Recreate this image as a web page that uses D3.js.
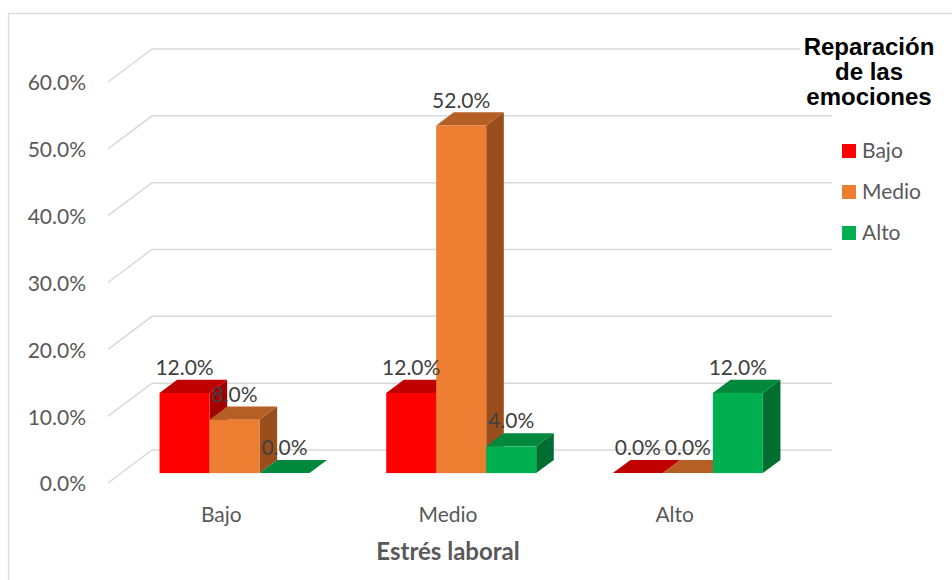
<!DOCTYPE html>
<html>
<head>
<meta charset="utf-8">
<script src="https://cdn.jsdelivr.net/npm/d3@7"></script>
<style>
  body { margin: 0; background: #fff; }
  svg { display: block; }
</style>
</head>
<body>
<svg id="chart" width="952" height="580"></svg>
<script>
var categories = ["Bajo", "Medio", "Alto"];
var seriesNames = ["Bajo", "Medio", "Alto"];
var bajoValues = [0.12, 0.12, 0.00];
var medioValues = [0.08, 0.52, 0.00];
var altoValues = [0.00, 0.04, 0.12];
var yTicks = [0, 0.1, 0.2, 0.3, 0.4, 0.5, 0.6];
var xTitle = "Estrés laboral";
var legendTitle = ["Reparación", "de las", "emociones"];

var colors = {
	Bajo:  { front: "#ff0000", top: "#c00000", side: "#a30000" },
	Medio: { front: "#ed7d31", top: "#b55f24", side: "#9a4e1b" },
	Alto:  { front: "#00b050", top: "#00883d", side: "#006e30" }
};

var font = "Lato, 'Open Sans', sans-serif";
var DX = 44, DY = 33;          // depth offset of the back wall
var z0 = 0.3, z1 = 0.7;        // depth span of the bars

var svg = d3.select("#chart");

// outer border (only top/left visible)
svg.append("rect")
	.attr("x", 8.5).attr("y", 13.5)
	.attr("width", 1000).attr("height", 1000)
	.attr("fill", "none")
	.attr("stroke", "#d9d9d9")
	.attr("stroke-width", 1.3);

var yScale = d3.scaleLinear()
	.domain([0, 0.6])
	.range([483, 82]);

var xScale = d3.scaleBand()
	.domain(categories)
	.range([108, 788]);

var xInner = d3.scaleBand()
	.domain(seriesNames)
	.range([0, xScale.bandwidth()])
	.paddingInner(0)
	.paddingOuter(0.767);

function px(x, z) { return x + z * DX; }
function py(y, z) { return y - z * DY; }

var g = svg.append("g");

// gridlines: left wall diagonal + back wall
g.selectAll(".grid")
	.data(yTicks)
	.enter().append("path")
		.attr("class", "grid")
		.attr("fill", "none")
		.attr("stroke", "#d9d9d9")
		.attr("stroke-width", 1.5)
		.attr("d", function(d) {
			var y = yScale(d);
			return "M" + px(108, 0) + "," + py(y, 0) +
				"L" + px(108, 1) + "," + py(y, 1) +
				"L" + px(788, 1) + "," + py(y, 1);
		});

// y tick labels
g.selectAll(".ytick")
	.data(yTicks)
	.enter().append("text")
		.attr("class", "ytick")
		.attr("x", 86)
		.attr("y", function(d) { return yScale(d) + 1; })
		.attr("dy", "0.35em")
		.attr("text-anchor", "end")
		.attr("font-family", font)
		.attr("font-size", 21)
		.attr("fill", "#595959")
		.text(function(d) { return d3.format(".1%")(d); });

var data = categories.map(function(c, i) {
	return { cat: c, values: { Bajo: bajoValues[i], Medio: medioValues[i], Alto: altoValues[i] } };
});

var bars = [];
data.forEach(function(d) {
	seriesNames.forEach(function(s) {
		bars.push({ cat: d.cat, key: s, value: d.values[s] });
	});
});

var barG = g.selectAll(".bar")
	.data(bars)
	.enter().append("g")
		.attr("class", "bar");

function pts(list) {
	return list.map(function(p) { return p[0] + "," + p[1]; }).join(" ");
}

barG.each(function(d) {
	var sel = d3.select(this);
	var x0 = xScale(d.cat) + xInner(d.key);
	var w = xInner.bandwidth();
	var yt = yScale(d.value), yb = yScale(0);

	// side face
	sel.append("polygon")
		.attr("fill", colors[d.key].side)
		.attr("points", pts([
			[px(x0 + w, z0), py(yt, z0)], [px(x0 + w, z1), py(yt, z1)],
			[px(x0 + w, z1), py(yb, z1)], [px(x0 + w, z0), py(yb, z0)]
		]));
	// top face
	sel.append("polygon")
		.attr("fill", colors[d.key].top)
		.attr("points", pts([
			[px(x0, z0), py(yt, z0)], [px(x0 + w, z0), py(yt, z0)],
			[px(x0 + w, z1), py(yt, z1)], [px(x0, z1), py(yt, z1)]
		]));
	// front face
	if (d.value > 0) {
		sel.append("rect")
			.attr("x", px(x0, z0))
			.attr("y", py(yt, z0))
			.attr("width", w)
			.attr("height", yb - yt)
			.attr("fill", colors[d.key].front);
	}
});

// data labels
g.selectAll(".dlabel")
	.data(bars)
	.enter().append("text")
		.attr("class", "dlabel")
		.attr("x", function(d) { return px(xScale(d.cat) + xInner(d.key) + xInner.bandwidth() / 2, z0); })
		.attr("y", function(d) { return py(yScale(d.value), z0) - 18; })
		.attr("text-anchor", "middle")
		.attr("font-family", font)
		.attr("font-size", 21)
		.attr("fill", "#404040")
		.text(function(d) { return d3.format(".1%")(d.value); });

// category labels
g.selectAll(".xtick")
	.data(categories)
	.enter().append("text")
		.attr("class", "xtick")
		.attr("x", function(d) { return xScale(d) + xScale.bandwidth() / 2; })
		.attr("y", 515)
		.attr("dy", "0.35em")
		.attr("text-anchor", "middle")
		.attr("font-family", font)
		.attr("font-size", 21)
		.attr("fill", "#595959")
		.text(function(d) { return d; });

svg.append("text")
	.attr("x", 448)
	.attr("y", 552)
	.attr("dy", "0.35em")
	.attr("text-anchor", "middle")
	.attr("font-family", font)
	.attr("font-size", 24)
	.attr("font-weight", "bold")
	.attr("fill", "#595959")
	.text(xTitle);

// legend
var legend = svg.append("g");
legend.append("rect")
	.attr("x", 800).attr("y", 30)
	.attr("width", 145).attr("height", 80)
	.attr("fill", "#fff");

legend.selectAll(".ltitle")
	.data(legendTitle)
	.enter().append("text")
		.attr("x", 869)
		.attr("y", function(d, i) { return 55 + i * 25; })
		.attr("text-anchor", "middle")
		.attr("font-family", "'Liberation Sans', Arial, sans-serif")
		.attr("font-size", 24)
		.attr("font-weight", "bold")
		.attr("fill", "#000")
		.text(function(d) { return d; });

var item = legend.selectAll(".litem")
	.data(seriesNames)
	.enter().append("g")
		.attr("class", "litem")
		.attr("transform", function(d, i) { return "translate(842," + (144 + i * 41) + ")"; });

item.append("rect")
	.attr("width", 14).attr("height", 14)
	.attr("fill", function(d) { return colors[d].front; });

item.append("text")
	.attr("x", 20)
	.attr("y", 7)
	.attr("dy", "0.35em")
	.attr("font-family", font)
	.attr("font-size", 21)
	.attr("fill", "#595959")
	.text(function(d) { return d; });
</script>
</body>
</html>
